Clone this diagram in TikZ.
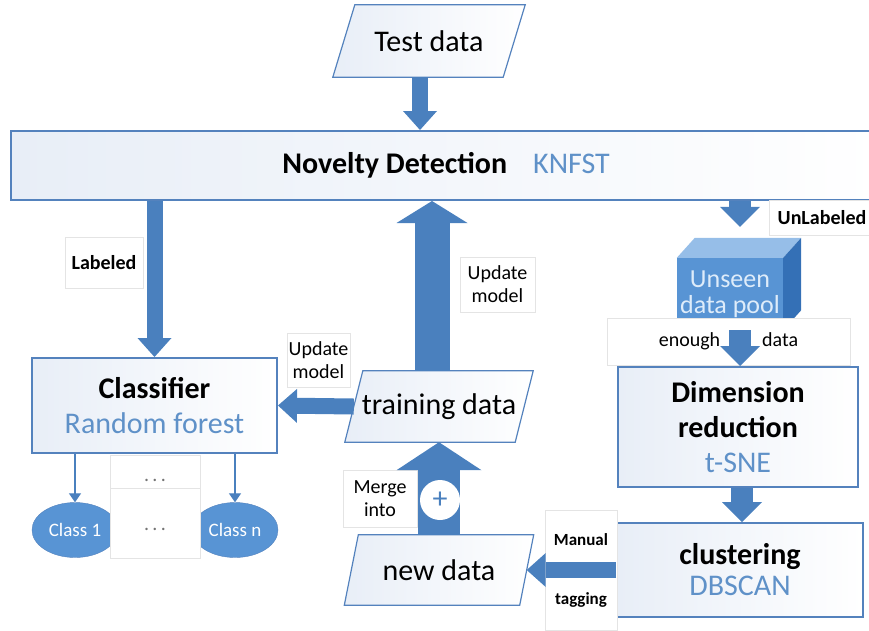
\documentclass[tikz,border=0pt]{standalone}
\usepackage{fontspec}
\setmainfont{Carlito}
\usepackage{xcolor}
\usetikzlibrary{arrows.meta,shapes.geometric,backgrounds}

\definecolor{flow}{RGB}{74,128,190}
\definecolor{edge}{RGB}{84,130,189}
\definecolor{sub}{RGB}{95,145,200}
\definecolor{paper}{RGB}{232,238,247}
\definecolor{cubefront}{RGB}{88,148,212}
\definecolor{cubetop}{RGB}{150,190,232}
\definecolor{cubeside}{RGB}{52,112,182}
\definecolor{tagline}{RGB}{228,228,228}

\tikzset{
  mainbox/.style={draw=edge, line width=2pt, left color=paper, right color=white, align=center, inner sep=0pt},
  para/.style={inner sep=0pt, font=\fontsize{30}{34}\selectfont},
  parashape/.style={draw=edge, line width=1.2pt, left color=paper, right color=white},
  tag/.style={draw=tagline, fill=white, align=center, inner sep=0pt, font=\fontsize{20}{23}\selectfont},
  cls/.style={ellipse, fill=cubefront, draw=edge, text=white, minimum width=86pt, minimum height=55pt, inner sep=0pt, font=\fontsize{19}{20}\selectfont},
  leaf/.style={draw=flow, line width=1.3pt, -{Triangle[length=9pt 0 0, width=12pt 0 0]}},
  flowS/.style={draw=flow, line width=16pt, -{Triangle[length=19pt 0 0, width=34pt 0 0, line width=0pt 0 0]}},
  flowM/.style={draw=flow, line width=22pt, -{Triangle[length=20pt 0 0, width=40pt 0 0, line width=0pt 0 0]}},
  flowL/.style={draw=flow, line width=35pt, -{Triangle[length=22pt 0 0, width=71pt 0 0, line width=0pt 0 0]}},
  flowXL/.style={draw=flow, line width=42pt, -{Triangle[length=28pt 0 0, width=85pt 0 0, line width=0pt 0 0]}}
}

\begin{document}
\begin{tikzpicture}[x=1pt,y=-1pt]

        \useasboundingbox (0,0) rectangle (869,630);
        \clip (0,0) rectangle (869,630);

        % main boxes
        \node[mainbox, minimum width=870pt, minimum height=69pt, font=\fontsize{30}{34}\selectfont] (novelty) at (446,165.5)
            {\textbf{Novelty Detection}\hspace{26pt}\textcolor{sub}{KNFST}};
        \node[mainbox, minimum width=245pt, minimum height=95pt, font=\fontsize{30}{35}\selectfont] (clf) at (154.5,405.5)
            {\textbf{Classifier}\\\textcolor{sub}{Random forest}};
        \node[mainbox, minimum width=240pt, minimum height=120pt, font=\fontsize{30}{35}\selectfont] (dimred) at (738,427)
            {\textbf{Dimension}\\\textbf{reduction}\\\textcolor{sub}{t-SNE}};
        \node[mainbox, minimum width=246pt, minimum height=94pt, font=\fontsize{30}{31}\selectfont] (clust) at (740,570)
            {\textbf{clustering}\\\textcolor{sub}{DBSCAN}};

        % data sets
        \node[para, minimum width=170pt, minimum height=72pt] (test) at (429,41) {Test data};
        \node[para, minimum width=170pt, minimum height=71pt] (train) at (439,406.5) {training data};
        \node[para, minimum width=175pt, minimum height=70pt] (newd) at (439,570) {new data};

        \begin{pgfonlayer}{background}
        \foreach \n/\s in {test/11, train/9, newd/7}{
            \draw[parashape] ([xshift=\s pt]\n.north west) -- ([xshift=\s pt]\n.north east)
                -- ([xshift=-\s pt]\n.south east) -- ([xshift=-\s pt]\n.south west) -- cycle;
        }
        \end{pgfonlayer}

        % unseen data pool
        \node[fill=cubefront, minimum width=106pt, minimum height=72pt, inner sep=0pt, align=center,
              text={rgb,255:red,222;green,236;blue,250}, font=\fontsize{26}{26}\selectfont] (pool) at (730,294) {Unseen\\data pool};
        \fill[cubetop] (pool.north west) -- ++(18,-20) -- ([shift={(18,-20)}]pool.north east) -- (pool.north east) -- cycle;
        \fill[cubeside] (pool.north east) -- ++(18,-20) -- ([shift={(18,-20)}]pool.south east) -- (pool.south east) -- cycle;

        % classes
        \foreach \i/\x in {1/75, n/235}{
            \node[cls] (cls\i) at (\x,530) {Class \i};
            \draw[leaf] (clf.south -| cls\i) -- (cls\i.north);
        }
        \node[tag, minimum width=90pt, minimum height=33pt, text height=20pt, text depth=0pt, text=black!55] (dotsA) at (155,471.5) {.\,.\,.};
        \node[tag, minimum width=90pt, minimum height=70pt, text height=14pt, text depth=0pt, text=black!55] (dotsB) at (155,523) {.\,.\,.};

        % labels
        \node[tag, minimum width=78pt, minimum height=51pt, font=\fontsize{20}{23}\selectfont\bfseries] (labeled) at (104,262.5) {Labeled};
        \node[tag, minimum width=63pt, minimum height=54pt] (updA) at (318.5,360) {Update\\model};
        \node[tag, minimum width=75pt, minimum height=55pt] (updB) at (497.5,284.5) {Update\\model};
        \node[tag, minimum width=106pt, minimum height=35pt, font=\fontsize{20}{23}\selectfont\bfseries] (unlab) at (822,217.5) {UnLabeled};
        \node[tag, minimum width=243pt, minimum height=47pt] (enough) at (728.5,341.5) {enough\hspace{42pt}data};
        \node[tag, minimum width=72pt, minimum height=120pt, font=\fontsize{17}{20}\selectfont\bfseries] (manual) at (581,570) {Manual\\[39pt]tagging};
        \node[tag, minimum width=74pt, minimum height=57pt] (merge) at (380,498.5) {Merge\\into};

        % connectors
        \draw[flowS] ([xshift=-9pt]test.south) -- ([xshift=-9pt]test.south |- novelty.north);
        \draw[flowS] (clf.north |- novelty.south) -- (clf.north);
        \draw[flowS] (train.west) -- (clf.east);
        \draw[flowL] ([xshift=-7pt]train.north) -- ([xshift=-7pt]train.north |- novelty.south);
        \draw[flowM] ([xshift=10pt]pool.north |- novelty.south) -- ([shift={(10,-31)}]pool.north);
        \draw[flowM] ([xshift=10pt]pool.south) -- ([xshift=10pt]pool.south |- dimred.north);
        \draw[flowM] ([xshift=4pt]dimred.south) -- ([xshift=4pt]dimred.south |- clust.north);
        \draw[flowS] (clust.west) -- (newd.east);
        \draw[flowXL] (newd.north) -- (train.south);

        % merge sign
        \node[circle, fill=white, minimum size=40pt, inner sep=0pt, text=flow, font=\fontsize{30}{30}\selectfont] (plus) at (440,500) {+};

\end{tikzpicture}
\end{document}
